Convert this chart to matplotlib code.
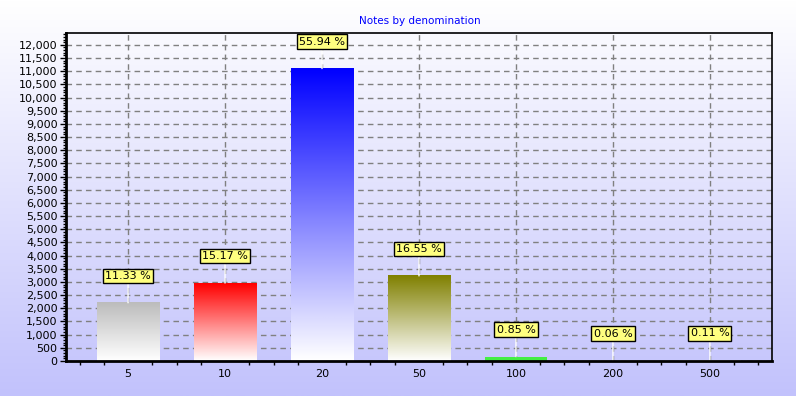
import numpy as np
import matplotlib
matplotlib.use("Agg")
import matplotlib.pyplot as plt
from matplotlib.colors import LinearSegmentedColormap
from matplotlib.ticker import MultipleLocator, FuncFormatter

# data
denominations = ["5", "10", "20", "50", "100", "200", "500"]
notes = [2210, 2960, 11100, 3230, 165, 12, 21]
percent_labels = ["11.33 %", "15.17 %", "55.94 %", "16.55 %", "0.85 %", "0.06 %", "0.11 %"]
bar_colors = ["#bcbcbc", "#ff0000", "#0000ff", "#808000", "#44ee44", "#e8e8ff", "#e8e8ff"]


def main():
    fig = plt.figure(figsize=(7.96, 3.96), dpi=100)

    # background gradient white -> lavender
    bg = fig.add_axes([0, 0, 1, 1], zorder=-10)
    grad = np.linspace(0, 1, 256).reshape(-1, 1)
    bg_cmap = LinearSegmentedColormap.from_list("bg", ["#ffffff", "#c2c2fc"])
    bg.imshow(grad, cmap=bg_cmap, aspect="auto", extent=[0, 1, 0, 1], origin="upper")
    bg.set_axis_off()

    ax = fig.add_axes([0.0829, 0.0884, 0.8869, 0.8283])
    ax.patch.set_alpha(0)

    x = np.arange(len(denominations))
    width = 0.64
    for i, (v, c) in enumerate(zip(notes, bar_colors)):
        cmap = LinearSegmentedColormap.from_list("b%d" % i, [c, "#ffffff"])
        g = np.linspace(0, 1, 128).reshape(-1, 1)
        if v < 500:
            # tiny bars: flat colour
            ax.bar(x[i], v, width=width, color=c, zorder=3)
        else:
            ax.imshow(g, cmap=cmap, aspect="auto", origin="upper",
                      extent=[x[i] - width / 2, x[i] + width / 2, 0, v], zorder=3)
        ax.annotate(percent_labels[i], xy=(x[i], v), xytext=(0, 22),
                    textcoords="offset pixels",
                    ha="center", va="bottom", fontsize=8, zorder=5,
                    bbox=dict(boxstyle="square,pad=0.2", fc="#ffff80", ec="black", lw=1),
                    arrowprops=dict(arrowstyle="-", color="white", lw=1, shrinkA=0, shrinkB=0))

    ax.set_xlim(-0.64, 6.64)
    ax.set_ylim(0, 12450)
    ax.set_xticks(x)
    ax.set_xticklabels(denominations)
    ax.xaxis.set_minor_locator(MultipleLocator(0.25))
    ax.yaxis.set_major_locator(MultipleLocator(500))
    ax.yaxis.set_minor_locator(MultipleLocator(100))
    ax.yaxis.set_major_formatter(FuncFormatter(lambda v, p: "{:,.0f}".format(v)))

    ax.tick_params(axis="x", which="major", length=0, pad=6, labelsize=8)
    ax.tick_params(axis="x", which="minor", length=3, width=1)
    ax.tick_params(axis="y", which="major", length=4, width=1, pad=2, labelsize=8)
    ax.tick_params(axis="y", which="minor", length=2, width=1)

    ax.grid(True, which="major", linestyle=(0, (4, 3)), color="#808080", lw=1, zorder=1)
    ax.set_axisbelow(True)

    ax.spines["left"].set_linewidth(2)
    ax.spines["bottom"].set_linewidth(2)
    ax.spines["top"].set_linewidth(1.2)
    ax.spines["right"].set_linewidth(1.2)
    for s in ax.spines.values():
        s.set_zorder(6)

    fig.text(0.527, 0.948, "Notes by denomination", color="#0000ff",
             fontsize=7.5, ha="center", va="center")

    fig.savefig("out.png", dpi=100)


if __name__ == "__main__":
    main()
